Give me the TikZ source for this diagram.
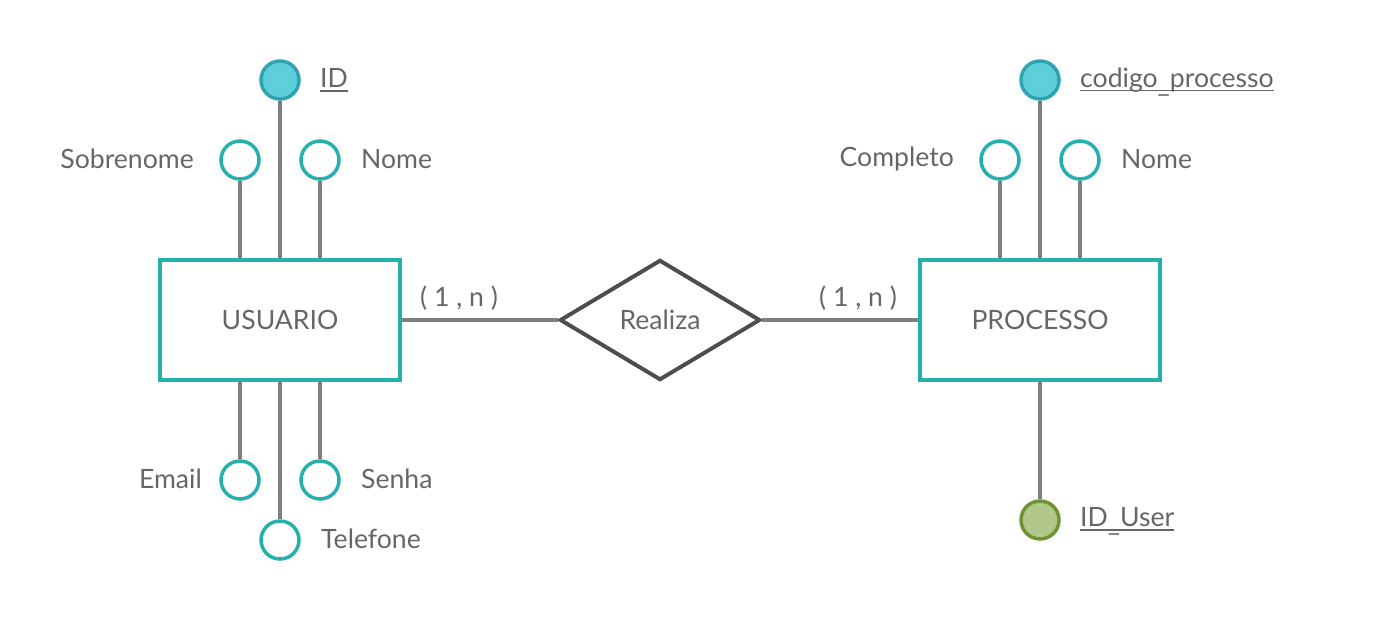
\documentclass[tikz,border=0pt]{standalone}
\usepackage{fontspec}
\setmainfont{Lato}
\usetikzlibrary{shapes.geometric}
\definecolor{txt}{HTML}{666666}
\definecolor{teal1}{HTML}{26B0AC}
\definecolor{keyfill}{HTML}{5ECFDB}
\definecolor{keyline}{HTML}{2CA5B0}
\definecolor{lnk}{HTML}{7F7F7F}
\definecolor{dia}{HTML}{4D4D4D}
\definecolor{gfill}{HTML}{B1C88A}
\definecolor{gline}{HTML}{6F9234}
\newcommand\ulx[1]{\setbox0\hbox{#1}\rlap{\rule[-4pt]{\wd0}{1.7pt}}\box0}
\newcommand\lowus{\smash{\raisebox{-5.4pt}{\_}}}
\tikzset{
  fnt/.style={font=\fontsize{26.6}{30}\selectfont},
  ent/.style={draw=teal1, line width=3.5pt, fill=white, minimum width=240pt, minimum height=120pt, inner sep=0pt, fnt, text=txt},
  rel/.style={diamond, draw=dia, line width=3.8pt, fill=white, minimum width=200pt, minimum height=120pt, aspect=1.667, inner sep=0pt, fnt, text=txt},
  att/.style={circle, draw=teal1, line width=3.5pt, fill=white, minimum size=38pt, inner sep=0pt},
  keyatt/.style={circle, draw=keyline, line width=3.5pt, fill=keyfill, minimum size=38pt, inner sep=0pt},
  fkatt/.style={circle, draw=gline, line width=3.5pt, fill=gfill, minimum size=38pt, inner sep=0pt},
  lbl/.style={fnt, text=txt, inner sep=0pt},
  conn/.style={draw=lnk, line width=4pt},
}
\begin{document}
\begin{tikzpicture}[x=1pt,y=-1pt]
\useasboundingbox (0,0) rectangle (1380,616);
% entities and relation
\node[ent] (usr) at (280,320) {USUARIO};
\node[ent] (proc) at (1040,320) {PROCESSO};
\node[rel] (rea) at (660,320) {Realiza};
% attributes USUARIO
\node[keyatt] (uid) at (280,80) {};
\node[att] (usob) at (240,160) {};
\node[att] (unom) at (320,160) {};
\node[att] (uema) at (240,480) {};
\node[att] (usen) at (320,480) {};
\node[att] (utel) at (280,540) {};
% attributes PROCESSO
\node[keyatt] (pcod) at (1040,80) {};
\node[att] (pcom) at (1000,160) {};
\node[att] (pnom) at (1080,160) {};
\node[fkatt] (pid) at (1040,520) {};
% connectors
\draw[conn] (uid.south) -- (uid.south |- usr.north);
\draw[conn] (usob.south) -- (usob.south |- usr.north);
\draw[conn] (unom.south) -- (unom.south |- usr.north);
\draw[conn] (uema.north) -- (uema.north |- usr.south);
\draw[conn] (usen.north) -- (usen.north |- usr.south);
\draw[conn] (utel.north) -- (utel.north |- usr.south);
\draw[conn] (pcod.south) -- (pcod.south |- proc.north);
\draw[conn] (pcom.south) -- (pcom.south |- proc.north);
\draw[conn] (pnom.south) -- (pnom.south |- proc.north);
\draw[conn] (pid.north) -- (proc.south);
\draw[conn] (usr.east) -- (rea.west);
\draw[conn] (rea.east) -- (proc.west);
% redraw nodes on top of connectors
\node[ent] at (usr) {USUARIO};
\node[ent] at (proc) {PROCESSO};
\node[rel] at (rea) {Realiza};
% labels
\node[lbl, anchor=west] (luid) at (320,80) {\ulx{ID}};
\node[lbl, anchor=east] (lusob) at (194,159) {Sobrenome};
\node[lbl, anchor=west] (lunom) at (361,159) {Nome};
\node[lbl, anchor=east] (luema) at (202,479) {Email};
\node[lbl, anchor=west] (lusen) at (361,479) {Senha};
\node[lbl, anchor=west] (lutel) at (321,539) {Telefone};
\node[lbl, anchor=west] (lpcod) at (1080,80) {\ulx{codigo\lowus processo}};
\node[lbl, anchor=east] (lpcom) at (954,159) {Completo};
\node[lbl, anchor=west] (lpnom) at (1121,159) {Nome};
\node[lbl, anchor=west] (lpid) at (1080,519) {\ulx{ID\lowus User}};
\node[lbl] (card1) at (459,298) {( 1 , n )};
\node[lbl] (card2) at (858,298) {( 1 , n )};
\end{tikzpicture}
\end{document}
